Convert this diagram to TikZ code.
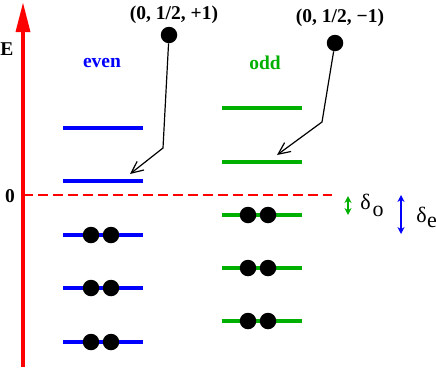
\documentclass[tikz,border=0pt]{standalone}
\usepackage{fontspec}
\setmainfont{Liberation Serif}
\usetikzlibrary{arrows.meta}
\definecolor{ered}{RGB}{255,0,0}
\definecolor{eblue}{RGB}{0,0,255}
\definecolor{egreen}{RGB}{0,176,0}
\tikzset{
  evenlvl/.style={draw=eblue, line width=3.2pt},
  oddlvl/.style={draw=egreen, line width=3.2pt},
  electron/.style={circle, fill=black, inner sep=0pt, minimum size=16.5pt},
  bigdot/.style={circle, fill=black, inner sep=0pt, minimum size=16.5pt},
  lbl/.style={font=\fontsize{19.5}{22}\selectfont\bfseries, inner sep=0pt},
  dlbl/.style={font=\fontsize{22}{24}\selectfont, inner sep=0pt},
  pointer/.style={draw=black, line width=1.2pt, -{Straight Barb[length=12pt,width=11pt,line width=1.2pt]}},
  gap/.style={line width=1.4pt, {Stealth[length=7pt,width=7pt]}-{Stealth[length=7pt,width=7pt]}}
}
\begin{document}
\begin{tikzpicture}[x=1pt,y=-1pt]
\useasboundingbox (0,0) rectangle (436,370);
% energy axis
\draw[ered, line width=3.2pt] (23,367) -- (23,28);
\fill[ered] (23,3) -- (30.5,32) -- (15.5,32) -- cycle;
\node[lbl] (E) at (7,49) {E};
\node[lbl] (zero) at (10,196) {0};
% zero line
\coordinate (zl) at (23,195);
\coordinate (zr) at (332,195);
\draw[ered, line width=1.6pt, dash pattern=on 10pt off 5pt] (zl) -- (zr);
% titles
\node[lbl, text=eblue] (even) at (102,63) {even};
\node[lbl, text=egreen] (odd) at (265,63) {odd};
% even levels
\foreach \n/\y in {e1/128, e2/181, e3/235, e4/288, e5/342} {
  \coordinate (\n l) at (63,\y);
  \coordinate (\n r) at (143,\y);
  \draw[evenlvl] (\n l) -- (\n r);
}
% odd levels
\foreach \n/\y in {o1/108, o2/162, o3/215, o4/268, o5/321} {
  \coordinate (\n l) at (222,\y);
  \coordinate (\n r) at (302,\y);
  \draw[oddlvl] (\n l) -- (\n r);
}
% electrons
\foreach \y [count=\i] in {235, 288, 342} {
  \node[electron] (ea\i) at (91,\y) {};
  \node[electron] (eb\i) at (111,\y) {};
}
\foreach \y [count=\i] in {215, 268, 321} {
  \node[electron] (oa\i) at (248,\y) {};
  \node[electron] (ob\i) at (268,\y) {};
}
% incoming states
\node[lbl] (s1) at (174,15) {(0, 1/2, +1)};
\node[lbl] (s2) at (340,18) {(0, 1/2, \textminus1)};
\node[bigdot] (d1) at (169,35) {};
\node[bigdot] (d2) at (335,43) {};
\coordinate (b1) at (163,148);
\coordinate (t1) at (130,174);
\coordinate (b2) at (322,122);
\coordinate (t2) at (277,155);
\draw[pointer] (d1) -- (b1) -- (t1);
\draw[pointer] (d2) -- (b2) -- (t2);
% gaps
\coordinate (go1) at (348,196);
\coordinate (go2) at (348,215);
\coordinate (ge1) at (401,195);
\coordinate (ge2) at (401,234);
\draw[gap, egreen] (go1) -- (go2);
\draw[gap, eblue] (ge1) -- (ge2);
\node[dlbl] (dol) at (365.5,202) {δ};
\node[dlbl] (dos) at (378,211) {o};
\node[dlbl] (del) at (421.5,215) {δ};
\node[dlbl] (des) at (432,222) {e};
\end{tikzpicture}
\end{document}
